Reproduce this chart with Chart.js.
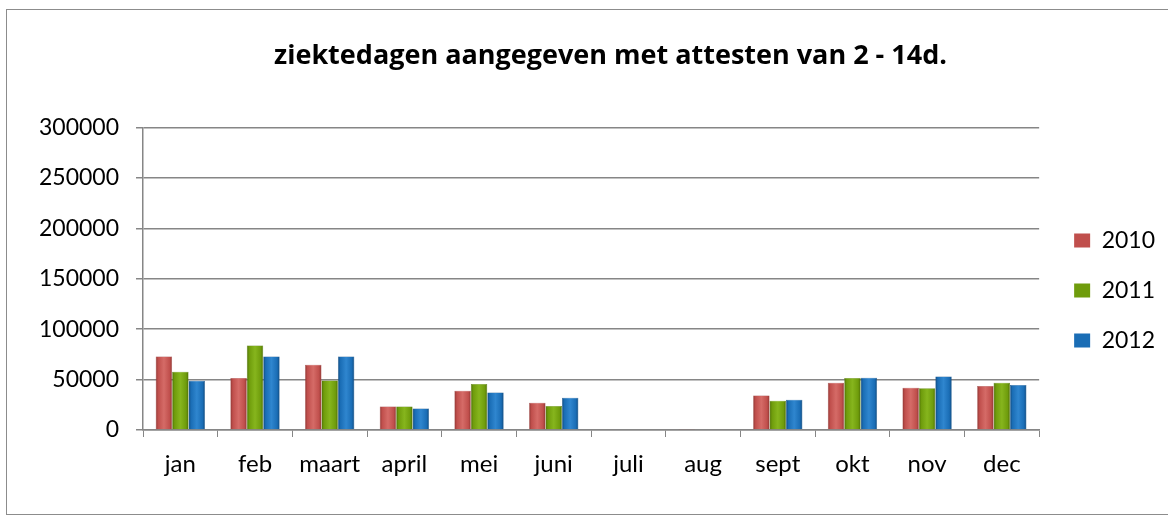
<!DOCTYPE html>
<html>
<head>
<meta charset="utf-8">
<script src="https://cdn.jsdelivr.net/npm/chart.js@4.4.1/dist/chart.umd.min.js"></script>
<style>
  html, body { margin: 0; padding: 0; background: #fff; }
  #wrap { position: relative; width: 1169px; height: 517px; }
  #frame { position: absolute; left: 6px; top: 9px; width: 1162px; height: 506px; border: 1px solid #8c8c8c; border-right: none; box-sizing: border-box; }
  canvas { position: absolute; left: 0; top: 0; }
</style>
</head>
<body>
<div id="wrap">
  <div id="frame"></div>
  <canvas id="chart" width="1169" height="517"></canvas>
</div>
<script>
const months = ["jan", "feb", "maart", "april", "mei", "juni", "juli", "aug", "sept", "okt", "nov", "dec"];
const values2010 = [72800, 51500, 64800, 23200, 38900, 26900, 0, 500, 34200, 46800, 41900, 43500];
const values2011 = [57800, 83700, 49000, 23200, 45500, 23900, 0, 0, 28900, 51500, 41500, 46800];
const values2012 = [48800, 72800, 72800, 21200, 37200, 31900, 0, 0, 29900, 51800, 53100, 44500];
const yTicks = [0, 50000, 100000, 150000, 200000, 250000, 300000];
const seriesColors = ["#c04f4c", "#6f9c0c", "#1a6db5"];

const catPct = 0.66;

// bevel-like horizontal gradient for each bar, placed from the x scale
function barFill(base, light, dark) {
    return (ctx) => {
        const chart = ctx.chart;
        const xs = chart.scales && chart.scales.x;
        if (!xs || ctx.dataIndex === undefined || !isFinite(xs.width)) return base;
        const w = xs.width / months.length * catPct / 3;
        const center = xs.getPixelForValue(ctx.dataIndex) - 1.5 * w + (ctx.datasetIndex + 0.5) * w;
        const g = chart.ctx.createLinearGradient(center - w / 2, 0, center + w / 2, 0);
        g.addColorStop(0, dark);
        g.addColorStop(0.15, base);
        g.addColorStop(0.5, light);
        g.addColorStop(0.85, base);
        g.addColorStop(1, dark);
        return g;
    };
}

// title sits a bit right of the canvas centre, legend a bit further right
const nudge = {
    id: "nudge",
    afterLayout(chart) {
        const t = chart.titleBlock;
        if (t) { t.left = 52; t.right = chart.width; }
        const l = chart.legend;
        if (l) { l.left += 8; l.right += 8; }
    }
};

const font = "Lato, 'Open Sans', sans-serif";

new Chart(document.getElementById("chart"), {
    type: "bar",
    data: {
        labels: months,
        datasets: [
            { label: "2010", data: values2010, backgroundColor: barFill(seriesColors[0], "#d56b67", "#8f3633"), borderColor: "#9a3b38", borderWidth: 0.5 },
            { label: "2011", data: values2011, backgroundColor: barFill(seriesColors[1], "#86b51d", "#4d6e06"), borderColor: "#557a08", borderWidth: 0.5 },
            { label: "2012", data: values2012, backgroundColor: barFill(seriesColors[2], "#2f86cf", "#11497c"), borderColor: "#14548c", borderWidth: 0.5 }
        ]
    },
    plugins: [nudge],
    options: {
        responsive: false,
        animation: false,
        events: [],
        layout: { padding: { left: 0, right: 12, top: 0, bottom: 0 } },
        datasets: { bar: { categoryPercentage: catPct, barPercentage: 1.0 } },
        scales: {
            x: {
                grid: { display: true, drawOnChartArea: false, drawTicks: true, tickLength: 7, color: "#868686", offset: true },
                border: { display: true, color: "#868686", width: 1.5 },
                ticks: { color: "#000", font: { family: font, size: 24 }, padding: 13, maxRotation: 0, autoSkip: false },
                afterFit: (s) => { s.height = 87; }
            },
            y: {
                min: 0,
                max: 300000,
                afterBuildTicks: (s) => { s.ticks = yTicks.map(v => ({ value: v })); },
                grid: { color: "#868686", lineWidth: 1.5, tickLength: 7 },
                border: { display: true, color: "#868686", width: 1.5 },
                ticks: { color: "#000", font: { family: font, size: 23 }, padding: 17, callback: (v) => String(v) },
                afterFit: (s) => { s.width = 143; }
            }
        },
        plugins: {
            title: {
                display: true,
                text: "ziektedagen aangegeven met attesten van 2 - 14d.",
                color: "#000",
                font: { family: "'Open Sans', sans-serif", size: 27, weight: "bold" },
                padding: { top: 40, bottom: 55 }
            },
            legend: {
                position: "right",
                title: { display: true, text: " ", font: { size: 10 }, padding: { top: 0, bottom: 52 } },
                labels: {
                    boxWidth: 16,
                    boxHeight: 14,
                    padding: 27,
                    color: "#000",
                    font: { family: font, size: 23 },
                    generateLabels: (chart) => chart.data.datasets.map((ds, i) => ({
                        text: ds.label,
                        fillStyle: seriesColors[i],
                        strokeStyle: seriesColors[i],
                        lineWidth: 0,
                        fontColor: "#000",
                        datasetIndex: i
                    }))
                }
            },
            tooltip: { enabled: false }
        }
    }
});
</script>
</body>
</html>
